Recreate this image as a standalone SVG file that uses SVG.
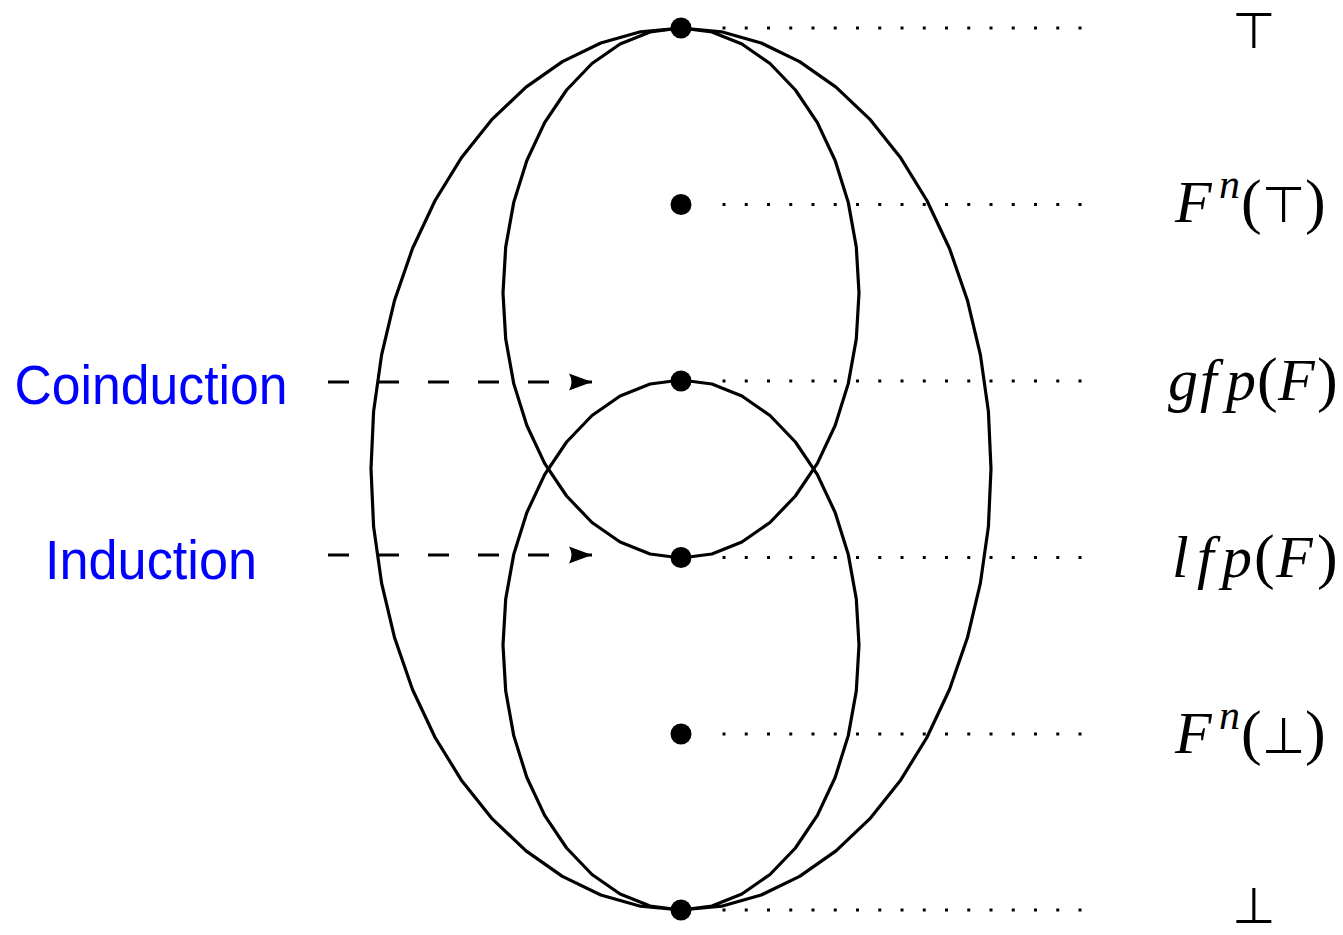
<svg xmlns="http://www.w3.org/2000/svg" xmlns:xlink="http://www.w3.org/1999/xlink" width="1343" height="935" viewBox="0 0 1343 935">
<style>
.curve{fill:none;stroke:#000;stroke-width:3.2;stroke-linejoin:round}
.dot{fill:#000}
.dotted{stroke:#000;stroke-width:3;stroke-dasharray:3 19.25;fill:none}
.dashed{stroke:#000;stroke-width:3;stroke-dasharray:21 29;fill:none}
.mi{font-family:"Liberation Serif","Times New Roman",serif;font-style:italic;font-size:60px;fill:#000}
.sup{font-family:"Liberation Serif","Times New Roman",serif;font-style:italic;font-size:42px;fill:#000}
.mr{font-family:"Liberation Serif","Times New Roman",serif;font-size:62px;fill:#000}
.sym{font-family:"DejaVu Sans",sans-serif;font-size:50px;fill:#000}
.lbl{font-family:"Liberation Sans",Arial,sans-serif;font-size:56px;fill:#0000ff;text-anchor:middle}
</style>
<defs>
<polygon id="inner" class="curve" points="0,-265 30.91,-260.97 60.88,-249.02 89,-229.5 114.42,-203 136.36,-170.34 154.15,-132.5 167.26,-90.64 175.3,-46.02 178,0 175.3,46.02 167.26,90.64 154.15,132.5 136.36,170.34 114.42,203 89,229.5 60.88,249.02 30.91,260.97 0,265 -30.91,260.97 -60.88,249.02 -89,229.5 -114.42,203 -136.36,170.34 -154.15,132.5 -167.26,90.64 -175.3,46.02 -178,0 -175.3,-46.02 -167.26,-90.64 -154.15,-132.5 -136.36,-170.34 -114.42,-203 -89,-229.5 -60.88,-249.02 -30.91,-260.97"/>
<marker id="arr" markerWidth="26" markerHeight="20" refX="0" refY="0" viewBox="-24 -10 26 20" markerUnits="userSpaceOnUse" orient="auto">
<path d="M0,0 L-23,-8.5 Q-18,0 -23,8.5 Z" fill="#000"/>
</marker>
</defs>
<g id="shapes">
<polygon id="outer" class="curve" points="681,28 721.5,31.8 761.2,43 799.6,61.6 836,87.1 869.7,119.1 900.2,157.2 926.9,200.5 949.5,248.5 967.4,300.2 980.4,354.9 988.4,411.4 991,469 988.4,526.6 980.4,583.1 967.4,637.8 949.5,689.5 926.9,737.5 900.2,780.8 869.7,818.9 836,850.9 799.6,876.4 761.2,895 721.5,906.2 681,910 640.5,906.2 600.8,895 562.4,876.4 526,850.9 492.3,818.9 461.8,780.8 435.1,737.5 412.5,689.5 394.6,637.8 381.6,583.1 373.6,526.6 371,469 373.6,411.4 381.6,354.9 394.6,300.2 412.5,248.5 435.1,200.5 461.8,157.2 492.3,119.1 526,87.1 562.4,61.6 600.8,43 640.5,31.8"/>
<use id="upper-inner" xlink:href="#inner" href="#inner" transform="translate(681,293)"/>
<use id="lower-inner" xlink:href="#inner" href="#inner" transform="translate(681,645)"/>
</g>
<g id="connectors">
<line class="dotted" x1="722.5" y1="28" x2="1082" y2="28"/>
<line class="dotted" x1="722.5" y1="204.5" x2="1082" y2="204.5"/>
<line class="dotted" x1="722.5" y1="381" x2="1082" y2="381"/>
<line class="dotted" x1="722.5" y1="557.5" x2="1082" y2="557.5"/>
<line class="dotted" x1="722.5" y1="734" x2="1082" y2="734"/>
<line class="dotted" x1="722.5" y1="910" x2="1082" y2="910"/>
<line class="dashed" x1="328" y1="382" x2="592" y2="382" marker-end="url(#arr)"/>
<line class="dashed" x1="328" y1="555" x2="592" y2="555" marker-end="url(#arr)"/>
</g>
<g id="node-top">
<circle class="dot" cx="681" cy="28" r="10.5"/>
<text class="sym" x="1254" y="48" text-anchor="middle">⊤</text>
</g>
<g id="node-fn-top">
<circle class="dot" cx="681" cy="204.5" r="10.5"/>
<text y="222"><tspan class="mi" x="1175">F</tspan><tspan class="sup" x="1219" y="198">n</tspan><tspan class="mr" x="1241" y="222">(</tspan><tspan class="sym" x="1262" y="222">⊤</tspan><tspan class="mr" x="1305" y="222">)</tspan></text>
</g>
<g id="node-gfp">
<circle class="dot" cx="681" cy="381" r="10.5"/>
<text y="400"><tspan class="mi" x="1168">g</tspan><tspan class="mi" x="1200">f</tspan><tspan class="mi" x="1226">p</tspan><tspan class="mr" x="1257">(</tspan><tspan class="mi" x="1278">F</tspan><tspan class="mr" x="1317">)</tspan></text>
</g>
<g id="node-lfp">
<circle class="dot" cx="681" cy="557.5" r="10.5"/>
<text y="577"><tspan class="mi" x="1172">l</tspan><tspan class="mi" x="1197">f</tspan><tspan class="mi" x="1222">p</tspan><tspan class="mr" x="1254">(</tspan><tspan class="mi" x="1276">F</tspan><tspan class="mr" x="1317">)</tspan></text>
</g>
<g id="node-fn-bot">
<circle class="dot" cx="681" cy="734" r="10.5"/>
<text y="753"><tspan class="mi" x="1175">F</tspan><tspan class="sup" x="1219" y="729">n</tspan><tspan class="mr" x="1241" y="753">(</tspan><tspan class="sym" x="1262" y="753">⊥</tspan><tspan class="mr" x="1305" y="753">)</tspan></text>
</g>
<g id="node-bot">
<circle class="dot" cx="681" cy="910" r="10.5"/>
<text class="sym" x="1254" y="923" text-anchor="middle">⊥</text>
</g>
<g id="node-coinduction">
<text class="lbl" x="151" y="404" textLength="273" lengthAdjust="spacingAndGlyphs">Coinduction</text>
</g>
<g id="node-induction">
<text class="lbl" x="151" y="579" textLength="212" lengthAdjust="spacingAndGlyphs">Induction</text>
</g>
</svg>
